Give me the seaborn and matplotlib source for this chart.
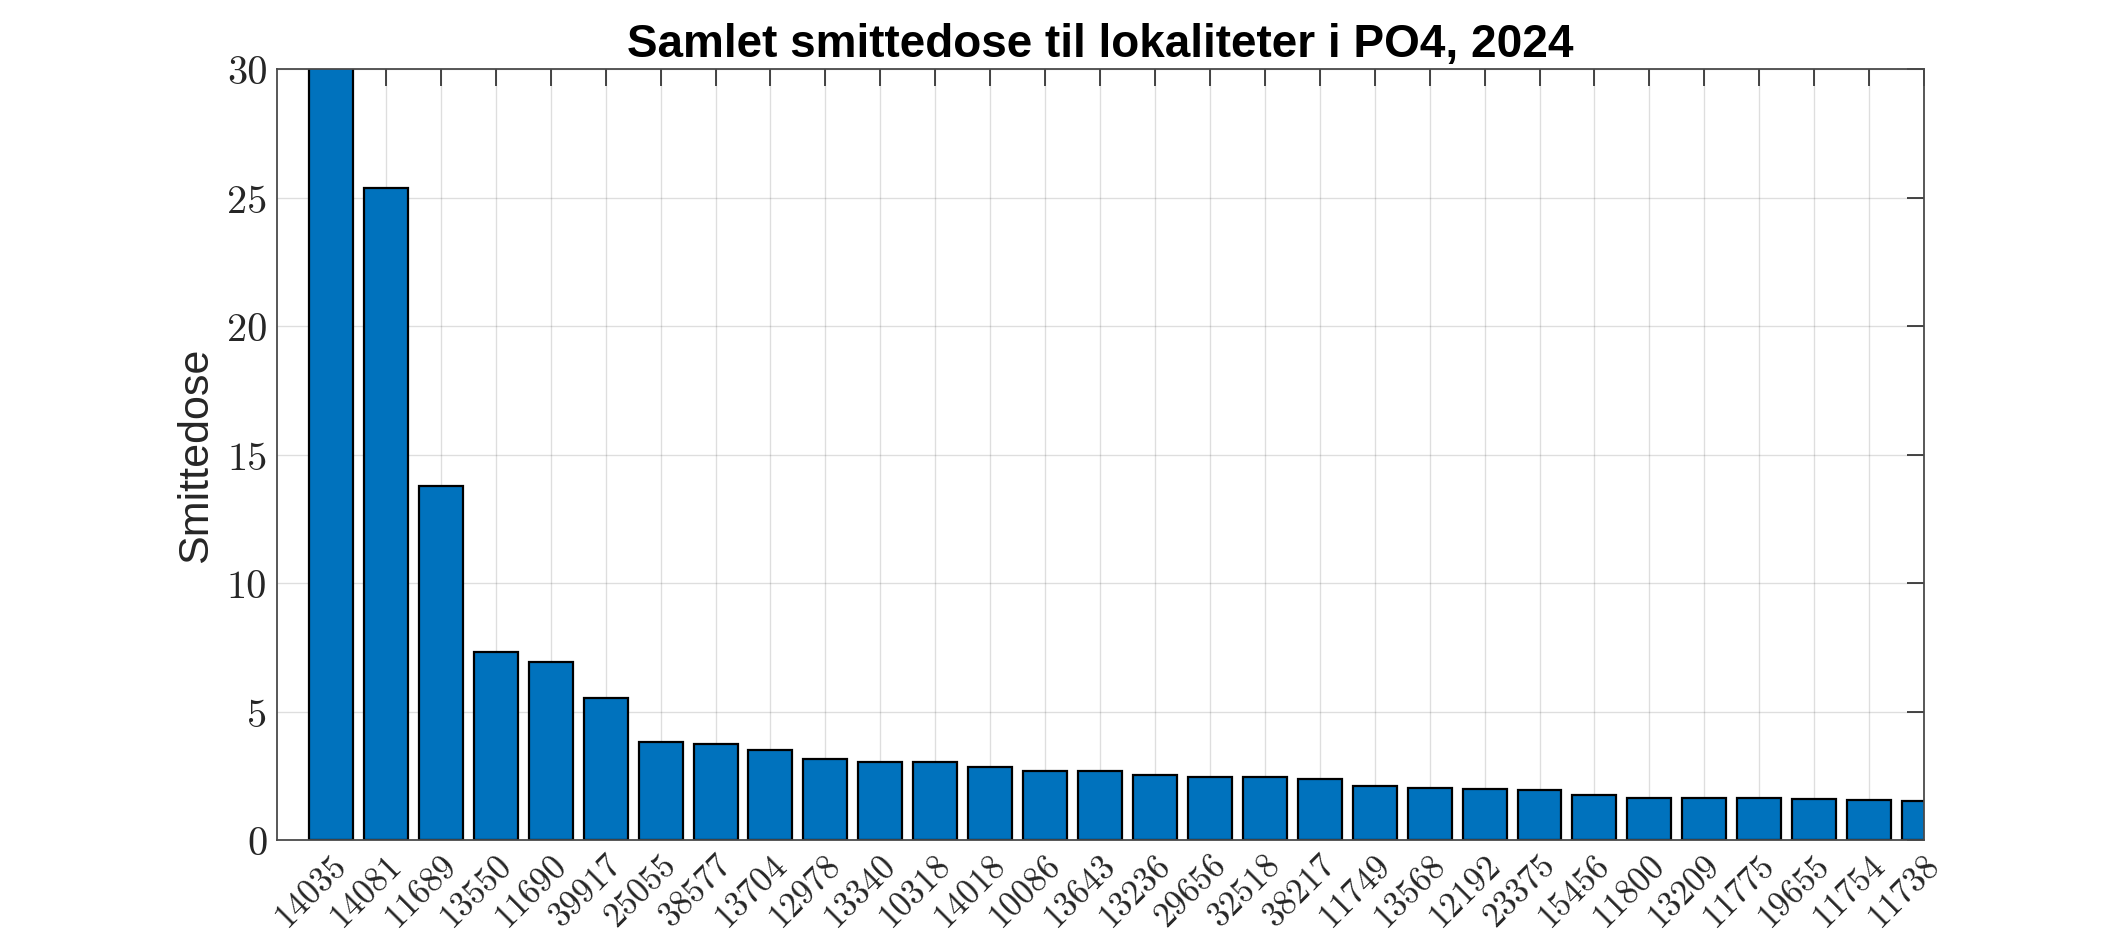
import numpy as np
import pandas as pd
import matplotlib
matplotlib.use("Agg")
import matplotlib.pyplot as plt
import seaborn as sns

# lokalitetsnummer og samlet smittedose (PO4, 2024), lest av figuren
lokaliteter = ['14035', '14081', '11689', '13550', '11690', '39917', '25055', '38577',
               '13704', '12978', '13340', '10318', '14018', '10086', '13643', '13236',
               '29656', '32518', '38217', '11749', '13568', '12192', '23375', '15456',
               '11800', '13209', '11775', '19655', '11754', '11738']
smittedose = [33.0, 25.40, 13.79, 7.34, 6.92, 5.54, 3.82, 3.75, 3.50, 3.14,
              3.05, 3.05, 2.86, 2.67, 2.67, 2.53, 2.46, 2.46, 2.39, 2.11,
              2.04, 1.99, 1.95, 1.74, 1.64, 1.64, 1.62, 1.60, 1.55, 1.52]
yticks = [0, 5, 10, 15, 20, 25, 30]

df = pd.DataFrame({'Lokalitet': lokaliteter, 'Smittedose': smittedose})

sns.set_style('white')
plt.rcParams['font.family'] = ['Liberation Sans', 'DejaVu Sans']

fig = plt.figure(figsize=(21.26, 9.45), dpi=100)
ax = fig.add_axes([0.1303, 0.110, 0.7747, 0.8154])

sns.barplot(data=df, x='Lokalitet', y='Smittedose', order=lokaliteter,
            color='#0072BD', saturation=1, width=0.8,
            edgecolor='black', linewidth=1.6, ax=ax, zorder=3)

ax.set_xlim(-0.983, len(lokaliteter) - 1)
ax.set_ylim(0, 30)
ax.set_yticks(yticks)
ax.set_yticklabels([str(t) for t in yticks], fontfamily='cmr10', fontsize=29, color='#262626')
ax.set_xticks(range(len(lokaliteter)))
ax.set_xticklabels(lokaliteter, fontfamily='cmr10', fontsize=25, color='#262626',
                   rotation=45, ha='right', va='top', rotation_mode='anchor')

ax.grid(True, color='#262626', alpha=0.15, linewidth=1, zorder=0)
ax.set_axisbelow(True)
ax.tick_params(direction='in', length=12, width=1.2, top=True, right=True,
               color='#262626', zorder=5)
ax.tick_params(axis='y', pad=7)
ax.tick_params(axis='x', pad=6)
for s in ax.spines.values():
    s.set_visible(True)
    s.set_color('#4a4a4a')
    s.set_linewidth(1.3)
    s.set_zorder(6)

ax.set_xlabel('')
ax.set_ylabel('Smittedose', fontsize=31, color='#262626')
ax.yaxis.set_label_coords(-0.0373, 0.5)
ax.set_title('Samlet smittedose til lokaliteter i PO4, 2024',
             fontsize=33, fontweight='bold', color='black', pad=10)

fig.savefig('out.png', dpi=100, facecolor='white')
